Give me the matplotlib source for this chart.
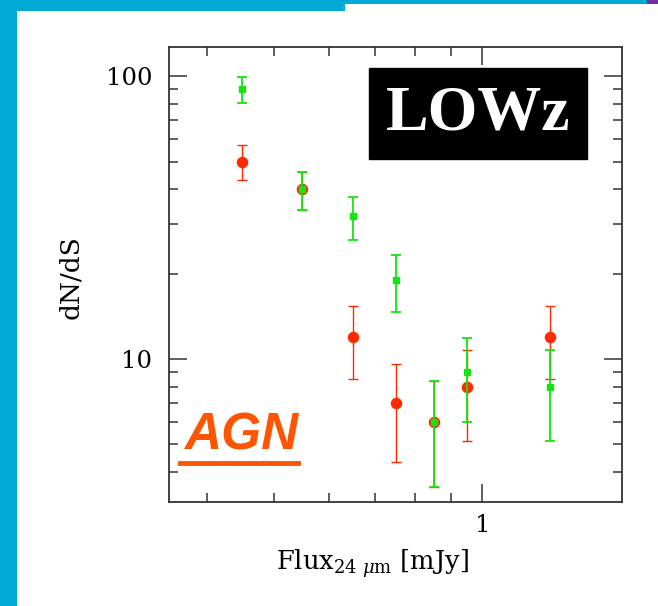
import matplotlib
matplotlib.use("Agg")
import matplotlib.pyplot as plt
from matplotlib.patches import Rectangle
from matplotlib.lines import Line2D
from matplotlib.ticker import FixedLocator, NullFormatter, FixedFormatter
import numpy as np

# flux bins (mJy)
flux = [0.45, 0.55, 0.65, 0.75, 0.85, 0.95, 1.25]

# red series
red_y = [50, 40, 12, 7, 6, 8, 12]
red_hi = [57, 46, 15.4, 9.6, 8.4, 10.8, 15.4]
red_lo = [43, 33.7, 8.5, 4.33, 3.53, 5.14, 8.5]

# green series
green_y = [90, 40, 32, 19, 6, 9, 8]
green_hi = [99.5, 46, 37.6, 23.3, 8.4, 11.9, 10.8]
green_lo = [80.5, 33.7, 26.4, 14.7, 3.53, 6.0, 5.14]

RED = "#ff2a00"
GREEN = "#11e611"
CYAN = "#00aad4"

plt.rcParams["font.family"] = "DejaVu Serif"
plt.rcParams["mathtext.fontset"] = "dejavuserif"

fig = plt.figure(figsize=(6.58, 6.06), dpi=100)

# slide decoration around the chart
fig.add_artist(Rectangle((0, 0), 17 / 658, 1, transform=fig.transFigure, color=CYAN, lw=0))
fig.add_artist(Rectangle((0, 1 - 4 / 606), 647 / 658, 4 / 606, transform=fig.transFigure, color=CYAN, lw=0))
fig.add_artist(Rectangle((0, 1 - 11 / 606), 345 / 658, 11 / 606, transform=fig.transFigure, color=CYAN, lw=0))
fig.add_artist(Rectangle((647 / 658, 1 - 4 / 606), 11 / 658, 4 / 606, transform=fig.transFigure, color="#7030a0", lw=0))

ax = fig.add_axes([169 / 658, 104 / 606, 453 / 658, 455 / 606])
ax.set_xscale("log")
ax.set_yscale("log")
ax.set_xlim(0.353, 1.59)
ax.set_ylim(3.13, 127)

def errs(y, lo, hi):
    y = np.array(y)
    return [y - np.array(lo), np.array(hi) - y]

ax.errorbar(flux, red_y, yerr=errs(red_y, red_lo, red_hi), fmt="o", color=RED,
            ms=7.3, elinewidth=1.0, capsize=3.5, capthick=1.0, zorder=3)
ax.errorbar(flux, green_y, yerr=errs(green_y, green_lo, green_hi), fmt="s", color=GREEN,
            ms=5, elinewidth=1.3, capsize=3.5, capthick=1.3, zorder=4)

ax.xaxis.set_major_locator(FixedLocator([1]))
ax.xaxis.set_major_formatter(FixedFormatter(["1"]))
ax.xaxis.set_minor_locator(FixedLocator([0.4, 0.5, 0.6, 0.7, 0.8, 0.9]))
ax.xaxis.set_minor_formatter(NullFormatter())
ax.yaxis.set_major_locator(FixedLocator([10, 100]))
ax.yaxis.set_major_formatter(FixedFormatter(["10", "100"]))
ax.yaxis.set_minor_locator(FixedLocator([4, 5, 6, 7, 8, 9, 20, 30, 40, 50, 60, 70, 80, 90]))
ax.yaxis.set_minor_formatter(NullFormatter())

ax.tick_params(which="both", direction="in", top=True, right=True, width=1.1, color="#333333",
               labelsize=17.5)
ax.tick_params(which="major", length=13)
ax.tick_params(which="minor", length=6.5)
ax.tick_params(axis="x", pad=9)
ax.tick_params(axis="y", pad=12)
for s in ax.spines.values():
    s.set_linewidth(1.3)
    s.set_color("#333333")

ax.text(0.448, -0.135, r"Flux$_{24\ \mu\mathrm{m}}$ [mJy]", transform=ax.transAxes,
        ha="center", va="center", fontsize=18.5)
ax.text(-0.218, 0.495, "dN/dS", transform=ax.transAxes, rotation=90,
        ha="center", va="center", fontsize=19)

# LOWz label box
ax.add_patch(Rectangle((0.4415, 0.754), 0.4812, 0.2, transform=ax.transAxes,
                       color="black", zorder=5))
ax.text(0.682, 0.852, "LOWz", transform=ax.transAxes, ha="center", va="center",
        color="white", fontsize=46, fontweight="bold", family="Liberation Serif", zorder=6)

# AGN tag
ax.text(0.159, 0.145, "AGN", transform=ax.transAxes, ha="center", va="center",
        color="#ff5500", fontsize=37, fontweight="bold", style="italic",
        family="Liberation Sans", zorder=6)
ax.add_line(Line2D([0.024, 0.285], [0.0864, 0.0864], transform=ax.transAxes,
                   color="#ff5500", lw=3.5, zorder=6))

fig.savefig("out.png", dpi=100)
